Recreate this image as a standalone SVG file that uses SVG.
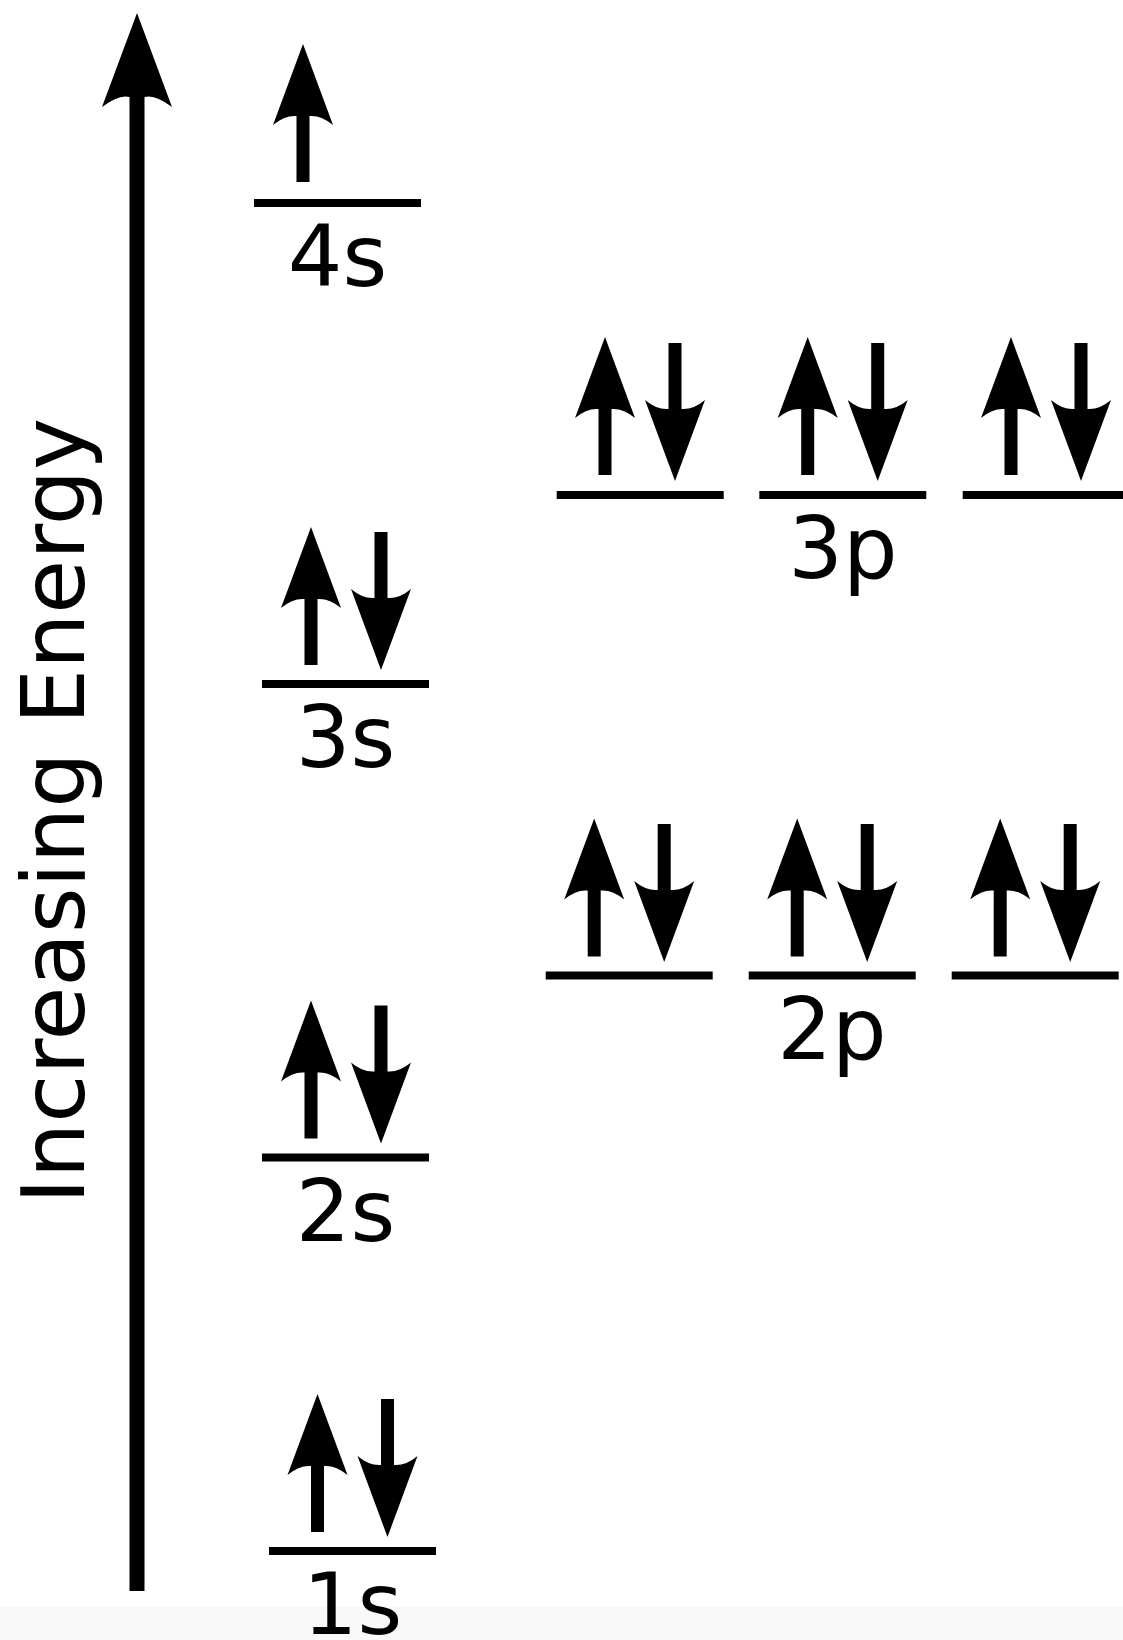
<svg xmlns="http://www.w3.org/2000/svg" xmlns:xlink="http://www.w3.org/1999/xlink" width="1123" height="1640" viewBox="0 0 1123 1640">
<style>
.lvl{stroke:#000;stroke-width:8;}
.lbl{font-family:"DejaVu Sans","Liberation Sans",sans-serif;font-size:86px;fill:#000;text-anchor:middle;}
.ax{font-family:"DejaVu Sans","Liberation Sans",sans-serif;font-size:87.5px;fill:#000;text-anchor:middle;}
</style>
<defs>
<path id="up" d="M0,0 L30,81 Q18,71 6.5,72 L6.5,138 L-6.5,138 L-6.5,72 Q-18,71 -30,81 Z" fill="#000"/>
</defs>
<rect x="0" y="0" width="1123" height="1640" fill="#fff"/>
<rect x="0" y="1607" width="1123" height="33" fill="#f9f9f9"/>

<g id="connectors">
<path id="energy-axis" d="M137,13 L172,107 Q155,94 144.5,97 L144.5,1591 L129.5,1591 L129.5,97 Q119,94 102,107 Z" fill="#000"/>
</g>

<g id="axis-label">
<text class="ax" transform="translate(84,811) rotate(-90)">Increasing Energy</text>
</g>

<g id="level-4s">
<line class="lvl" x1="254" y1="203" x2="421" y2="203"/>
<use xlink:href="#up" transform="translate(303,44)"/>
<text class="lbl" x="337.5" y="286">4s</text>
</g>

<g id="level-3s">
<line class="lvl" x1="262" y1="684" x2="429" y2="684"/>
<use xlink:href="#up" transform="translate(311,527)"/>
<use xlink:href="#up" transform="translate(381,670) rotate(180)"/>
<text class="lbl" x="345.5" y="767">3s</text>
</g>

<g id="level-2s">
<line class="lvl" x1="262" y1="1157.5" x2="429" y2="1157.5"/>
<use xlink:href="#up" transform="translate(311,1000.5)"/>
<use xlink:href="#up" transform="translate(381,1143.5) rotate(180)"/>
<text class="lbl" x="345.5" y="1240.5">2s</text>
</g>

<g id="level-1s">
<line class="lvl" x1="269" y1="1551" x2="436" y2="1551"/>
<use xlink:href="#up" transform="translate(317.5,1394)"/>
<use xlink:href="#up" transform="translate(387.5,1537) rotate(180)"/>
<text class="lbl" x="352.5" y="1634">1s</text>
</g>

<g id="level-3p">
<line class="lvl" x1="556.7" y1="495" x2="723.7" y2="495"/>
<line class="lvl" x1="759.3" y1="495" x2="926.3" y2="495"/>
<line class="lvl" x1="962.7" y1="495" x2="1129.7" y2="495"/>
<use xlink:href="#up" transform="translate(605,337)"/>
<use xlink:href="#up" transform="translate(675,481) rotate(180)"/>
<use xlink:href="#up" transform="translate(807.7,337)"/>
<use xlink:href="#up" transform="translate(877.7,481) rotate(180)"/>
<use xlink:href="#up" transform="translate(1011,337)"/>
<use xlink:href="#up" transform="translate(1081,481) rotate(180)"/>
<text class="lbl" x="843" y="578">3p</text>
</g>

<g id="level-2p">
<line class="lvl" x1="545.7" y1="975.5" x2="712.7" y2="975.5"/>
<line class="lvl" x1="748.7" y1="975.5" x2="915.7" y2="975.5"/>
<line class="lvl" x1="951.7" y1="975.5" x2="1118.7" y2="975.5"/>
<use xlink:href="#up" transform="translate(594.2,818.5)"/>
<use xlink:href="#up" transform="translate(664.2,962) rotate(180)"/>
<use xlink:href="#up" transform="translate(797.2,818.5)"/>
<use xlink:href="#up" transform="translate(867.2,962) rotate(180)"/>
<use xlink:href="#up" transform="translate(1000.2,818.5)"/>
<use xlink:href="#up" transform="translate(1070.2,962) rotate(180)"/>
<text class="lbl" x="832" y="1058.5">2p</text>
</g>
</svg>
